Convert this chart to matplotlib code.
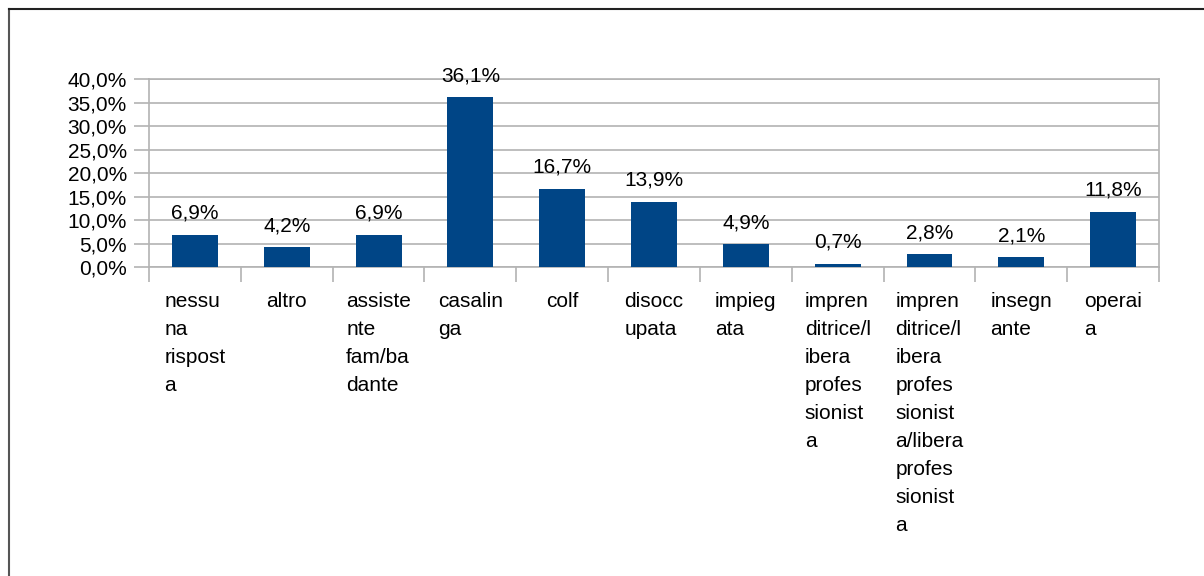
import numpy as np
import matplotlib
matplotlib.use("Agg")
import matplotlib.pyplot as plt
from matplotlib.lines import Line2D
from matplotlib.ticker import FuncFormatter

plt.rcParams['font.family'] = ['Liberation Sans', 'DejaVu Sans']

# dati
categorie = ["nessu\nna\nrispost\na", "altro", "assiste\nnte\nfam/ba\ndante",
             "casalin\nga", "colf", "disocc\nupata", "impieg\nata",
             "impren\nditrice/l\nibera\nprofes\nsionist\na",
             "impren\nditrice/l\nibera\nprofes\nsionist\na/libera\nprofes\nsionist\na",
             "insegn\nante", "operai\na"]
valori = [6.9, 4.2, 6.9, 36.1, 16.7, 13.9, 4.9, 0.7, 2.8, 2.1, 11.8]
etichette = ["6,9%", "4,2%", "6,9%", "36,1%", "16,7%", "13,9%", "4,9%",
             "0,7%", "2,8%", "2,1%", "11,8%"]

grigio = "#b3b3b3"
blu = "#004586"

fig = plt.figure(figsize=(12.04, 5.76), dpi=100)
ax = fig.add_axes([149/1204, 1-267/576, 1010/1204, 188/576])

x = np.arange(len(valori))
ax.bar(x, valori, width=0.5, color=blu, zorder=3)
for xi, v, t in zip(x, valori, etichette):
    ax.annotate(t, (xi, v), xytext=(0, 8.5), textcoords="offset points",
                ha="center", va="bottom", fontsize=15, color="#000000")

ax.set_xlim(-0.5, len(valori)-0.5)
ax.set_ylim(0, 40)
ax.set_yticks(np.arange(0, 41, 5))
ax.yaxis.set_major_formatter(FuncFormatter(lambda v, p: ("%.1f%%" % v).replace(".", ",")))
ax.grid(axis="y", color=grigio, linewidth=1.2, zorder=0)
ax.tick_params(axis="y", length=11, width=1.2, color=grigio, labelsize=15, pad=5)

# tacche x ai confini, etichette al centro
ax.set_xticks(np.arange(-0.5, len(valori)), minor=False)
ax.set_xticklabels([])
ax.set_xticks(x, minor=True)
ax.set_xticklabels(categorie, minor=True, fontsize=15, linespacing=1.6,
                   ha="center", ma="left", va="top")
ax.tick_params(axis="x", which="major", length=11, width=1.2, color=grigio)
ax.tick_params(axis="x", which="minor", length=0, pad=18)

for s in ax.spines.values():
    s.set_color(grigio)
    s.set_linewidth(1.2)

# cornice
fig.add_artist(Line2D([8.5/1204, 8.5/1204], [0, 1-8.5/576], transform=fig.transFigure,
                      color="#555555", linewidth=1.5))
fig.add_artist(Line2D([8.5/1204, 1], [1-8.5/576, 1-8.5/576], transform=fig.transFigure,
                      color="#222222", linewidth=1.5))

fig.savefig("out.png", dpi=100)
